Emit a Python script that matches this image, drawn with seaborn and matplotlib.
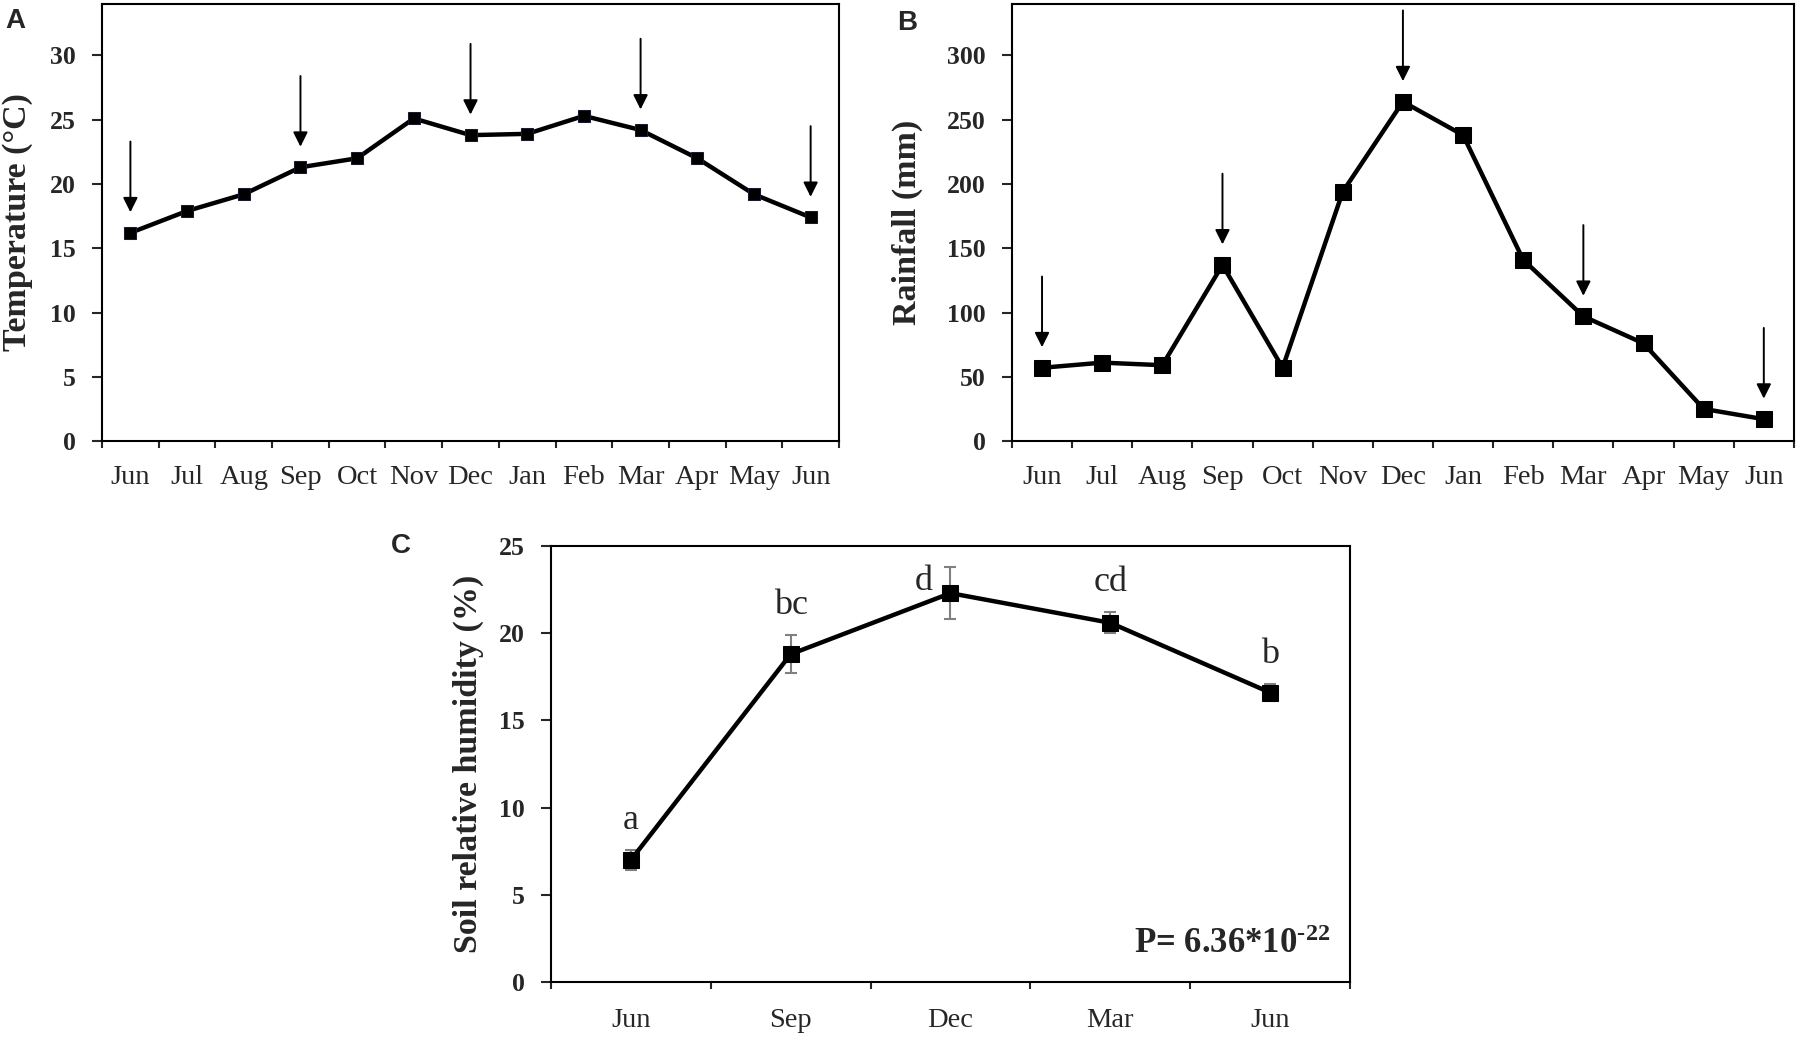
import numpy as np
import matplotlib
matplotlib.use("Agg")
import matplotlib.pyplot as plt
import seaborn as sns

# ---------- data ----------
months_ab = ["Jun", "Jul", "Aug", "Sep", "Oct", "Nov", "Dec",
             "Jan", "Feb", "Mar", "Apr", "May", "Jun"]
temperature = [16.2, 17.9, 19.2, 21.3, 22.0, 25.1, 23.8, 23.9, 25.3, 24.2, 22.0, 19.2, 17.4]
rainfall = [57, 61, 59, 137, 57, 194, 264, 238, 141, 97, 76, 25, 17]
sampling_idx = [0, 3, 6, 9, 12]   # months marked with arrows

months_c = ["Jun", "Sep", "Dec", "Mar", "Jun"]
humidity = [7.0, 18.8, 22.3, 20.6, 16.6]
humidity_err = [0.6, 1.1, 1.5, 0.6, 0.5]
groups = ["a", "bc", "d", "cd", "b"]
p_text = r"P= 6.36*10$^{\text{-22}}$"
# ----------------------------------------------

sns.set_style("ticks")
plt.rcParams["font.family"] = ["Liberation Serif", "DejaVu Serif"]
plt.rcParams["mathtext.fontset"] = "custom"
plt.rcParams["mathtext.rm"] = "Liberation Serif:bold"
plt.rcParams["mathtext.default"] = "rm"

W, H, dpi = 1800, 1037, 100
fig = plt.figure(figsize=(W / dpi, H / dpi), dpi=dpi)

axA = fig.add_axes([0.0567, 0.5747, 0.4094, 0.4214])
axB = fig.add_axes([0.5622, 0.5747, 0.4344, 0.4214])
axC = fig.add_axes([0.3061, 0.0530, 0.4439, 0.4204])


def style_axis(ax, labels, ylim, yticks, ylabel, label_x, xpad):
    n = len(labels)
    ax.set_xlim(-0.5, n - 0.5)
    ax.set_ylim(*ylim)
    ax.set_xticks(np.arange(n))
    ax.set_xticklabels(labels, fontsize=20.5)
    ax.set_xticks(np.arange(n + 1) - 0.5, minor=True)
    ax.tick_params(axis="x", which="major", length=0, pad=xpad)
    ax.tick_params(axis="x", which="minor", length=5, width=1.5, direction="out")
    ax.set_yticks(yticks)
    ax.set_yticklabels([str(t) for t in yticks], fontsize=18.5, fontweight="bold")
    ax.tick_params(axis="y", length=7, width=1.5, direction="out", pad=12)
    for s in ax.spines.values():
        s.set_visible(True)
        s.set_linewidth(1.5)
        s.set_color("black")
    ax.set_xlabel("")
    ax.set_ylabel(ylabel, fontsize=24.5, fontweight="bold")
    ax.yaxis.set_label_coords(label_x, 0.5)


def add_arrows(ax, values, gap, length):
    for i in sampling_idx:
        tip = values[i] + gap
        ax.annotate("", xy=(i, tip), xytext=(i, tip + length),
                    arrowprops=dict(arrowstyle="-|>", color="black", lw=1.4,
                                    mutation_scale=22, shrinkA=0, shrinkB=0))


# A: temperature
xa = np.arange(len(months_ab))
sns.lineplot(x=xa, y=temperature, ax=axA, color="black", linewidth=3.2,
             marker="s", markersize=8.5, markeredgecolor="#1a1a2e")
style_axis(axA, months_ab, (0, 34), list(range(0, 31, 5)), "Temperature (°C)", -0.094, 17)
add_arrows(axA, temperature, 1.6, 5.5)

# B: rainfall
sns.lineplot(x=xa, y=rainfall, ax=axB, color="black", linewidth=3.2,
             marker="s", markersize=12, markeredgecolor="black")
style_axis(axB, months_ab, (0, 340), list(range(0, 301, 50)), "Rainfall (mm)", -0.114, 17)
add_arrows(axB, rainfall, 16, 55)

# C: soil humidity
xc = np.arange(len(months_c))
axC.errorbar(xc, humidity, yerr=humidity_err, fmt="none", ecolor="#808080",
             elinewidth=1.5, capsize=4.5, capthick=1.5, zorder=1)
sns.lineplot(x=xc, y=humidity, ax=axC, color="black", linewidth=3.2,
             marker="s", markersize=12, markeredgecolor="black", zorder=2)
style_axis(axC, months_c, (0, 25), list(range(0, 26, 5)), "Soil relative humidity (%)", -0.084, 19)

label_shift = {"d": (-0.17, -2.5)}
for i, (v, e, g) in enumerate(zip(humidity, humidity_err, groups)):
    dx, dy = label_shift.get(g, (0, 0))
    axC.text(i + dx, v + e + 1.2 + dy, g, ha="center", va="baseline", fontsize=26)

axC.text(0.975, 0.0665, p_text, transform=axC.transAxes, ha="right", va="baseline",
         fontsize=25, fontweight="bold")

# panel letters
for lbl, x, y in [("A", 5, 8), ("B", 897, 10), ("C", 391, 533)]:
    fig.text(x / W, 1 - y / H, lbl, ha="left", va="top", fontsize=20,
             fontweight="bold", family=["Liberation Sans", "DejaVu Sans"])

fig.savefig("out.png", dpi=dpi)
